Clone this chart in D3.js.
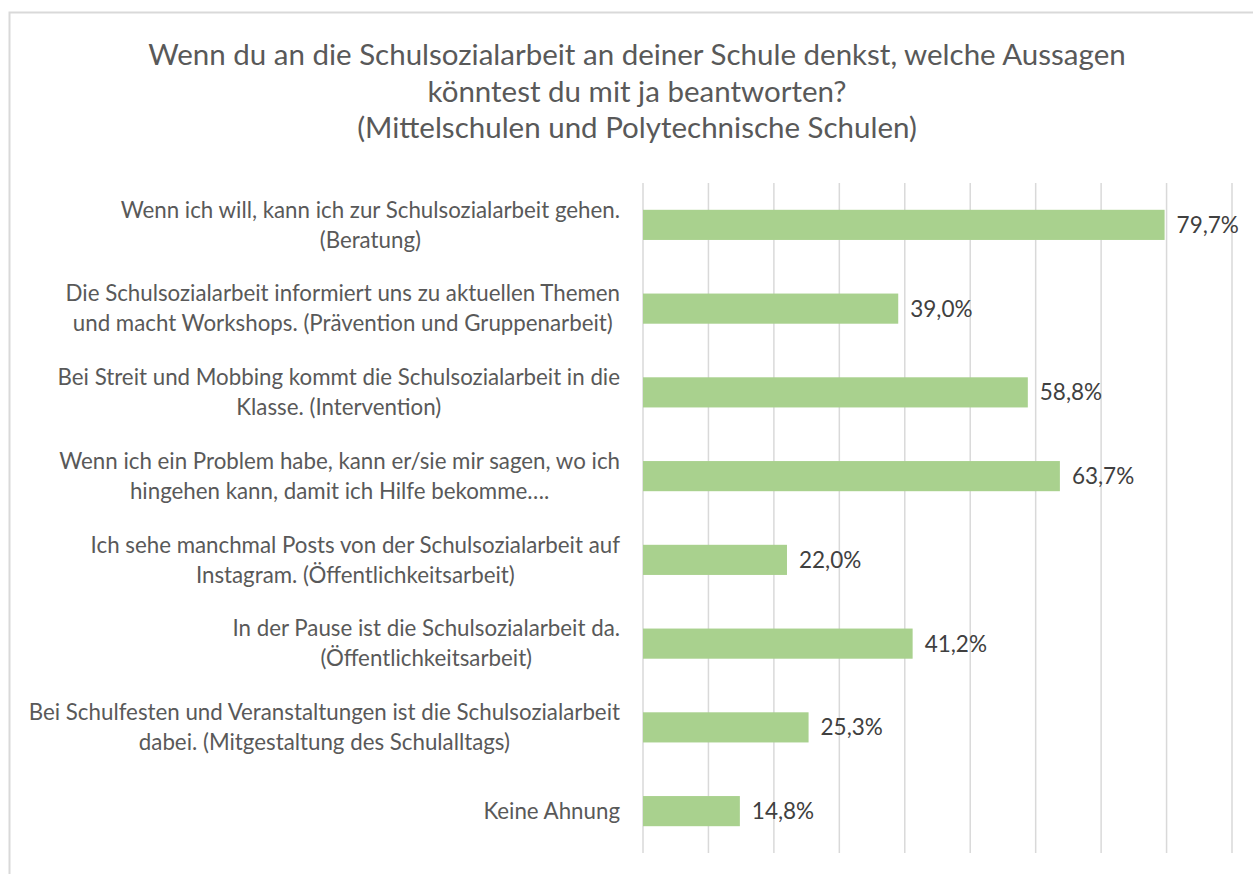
<!DOCTYPE html>
<html><head><meta charset="utf-8">
<script src="https://cdn.jsdelivr.net/npm/d3@7"></script>
<style>body{margin:0;background:#fff}svg{display:block}</style>
</head><body>
<script>
const titleLines = ["Wenn du an die Schulsozialarbeit an deiner Schule denkst, welche Aussagen","könntest du mit ja beantworten?","(Mittelschulen und Polytechnische Schulen)"];
const categories = [
  "Wenn ich will, kann ich zur Schulsozialarbeit gehen.\n(Beratung)",
  "Die Schulsozialarbeit informiert uns zu aktuellen Themen\nund macht Workshops. (Prävention und Gruppenarbeit)",
  "Bei Streit und Mobbing kommt die Schulsozialarbeit in die\nKlasse. (Intervention)",
  "Wenn ich ein Problem habe, kann er/sie mir sagen, wo ich\nhingehen kann, damit ich Hilfe bekomme….",
  "Ich sehe manchmal Posts von der Schulsozialarbeit auf\nInstagram. (Öffentlichkeitsarbeit)",
  "In der Pause ist die Schulsozialarbeit da.\n(Öffentlichkeitsarbeit)",
  "Bei Schulfesten und Veranstaltungen ist die Schulsozialarbeit\ndabei. (Mitgestaltung des Schulalltags)",
  "Keine Ahnung"
];
const values = [0.797, 0.390, 0.588, 0.637, 0.220, 0.412, 0.253, 0.148];
const gridTicks = [0, 0.1, 0.2, 0.3, 0.4, 0.5, 0.6, 0.7, 0.8, 0.9];

const W = 1253, H = 874;
const FONT = "Lato, 'Open Sans', sans-serif";
const svg = d3.select("body").append("svg").attr("width", W).attr("height", H);

// chart border
svg.append("rect").attr("x", 9.5).attr("y", 12.5).attr("width", W).attr("height", H)
  .attr("fill", "none").attr("stroke", "#d9d9d9").attr("stroke-width", 2);

const x = d3.scaleLinear().domain([0, 0.9]).range([643, 1232]);
const y = d3.scaleBand().domain(categories).range([183, 853]).paddingInner(0.64).paddingOuter(0.32);

// gridlines
svg.append("g").selectAll("line").data(gridTicks).join("line")
  .attr("x1", d => x(d)).attr("x2", d => x(d)).attr("y1", 183).attr("y2", 853)
  .attr("stroke", "#d9d9d9").attr("stroke-width", 1.5);

// bars
svg.append("g").selectAll("rect").data(values).join("rect")
  .attr("x", x(0)).attr("y", (d, i) => y(categories[i]))
  .attr("width", d => x(d) - x(0)).attr("height", y.bandwidth())
  .attr("fill", "#a9d18e");

// value labels
const fmt = d => (d * 100).toFixed(1).replace(".", ",") + "%";
svg.append("g").selectAll("text").data(values).join("text")
  .attr("x", d => x(d) + 12).attr("y", (d, i) => y(categories[i]) + y.bandwidth() / 2)
  .attr("dy", "0.35em").attr("font-family", FONT).attr("font-size", 22.5).attr("fill", "#404040")
  .text(fmt);

// category labels: block right-aligned, lines centered within block
const lab = svg.append("g").selectAll("text").data(categories).join("text")
  .attr("text-anchor", "middle").attr("font-family", FONT).attr("font-size", 22.3).attr("fill", "#595959")
  .attr("transform", d => `translate(620,${y(d) + y.bandwidth() / 2})`);
lab.each(function(d) {
  const lines = d.split("\n");
  const lh = 30;
  const t = d3.select(this);
  const spans = lines.map((l, j) =>
    t.append("tspan").attr("y", (j - (lines.length - 1) / 2) * lh).attr("dy", "0.35em").text(l));
  const maxW = d3.max(spans, s => s.node().getComputedTextLength());
  spans.forEach(s => s.attr("x", -maxW / 2));
});

// title
svg.append("g").selectAll("text").data(titleLines).join("text")
  .attr("x", 637).attr("y", (d, i) => 55 + i * 36.5).attr("dy", "0.35em")
  .attr("text-anchor", "middle").attr("font-family", FONT).attr("font-size", 29.5).attr("fill", "#595959")
  .text(d => d);
</script>
</body></html>
